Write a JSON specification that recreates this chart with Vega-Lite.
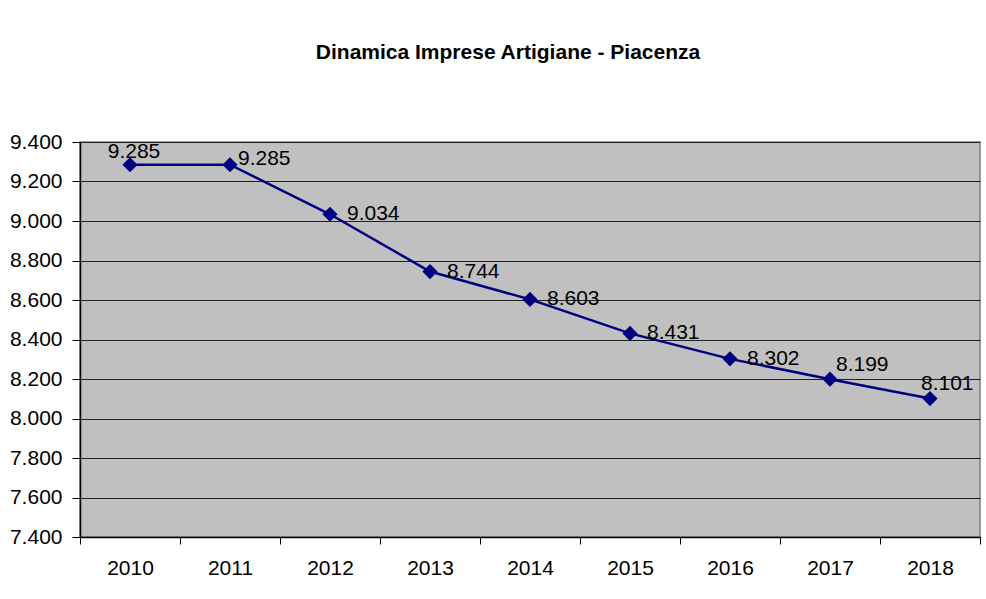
{
  "$schema": "https://vega.github.io/schema/vega-lite/v6.json",
  "width": 900,
  "height": 395,
  "autosize": {"type": "none"},
  "padding": {"left": 80, "top": 142, "right": 6, "bottom": 62},
  "background": "white",
  "config": {
    "locale": {"number": {"decimal": ",", "thousands": ".", "grouping": [3], "currency": ["€", ""]}},
    "font": "Liberation Sans",
    "view": {"fill": "#c0c0c0", "stroke": "#808080", "strokeWidth": 1.5}
  },
  "title": {
    "text": "Dinamica Imprese Artigiane - Piacenza",
    "font": "Liberation Sans",
    "fontSize": 21,
    "fontWeight": "bold",
    "color": "black",
    "anchor": "middle",
    "frame": "group",
    "baseline": "alphabetic",
    "offset": 51,
    "dx": -22
  },
  "data": {
    "values": [
      {"anno": "2010", "imprese": 9285},
      {"anno": "2011", "imprese": 9285},
      {"anno": "2012", "imprese": 9034},
      {"anno": "2013", "imprese": 8744},
      {"anno": "2014", "imprese": 8603},
      {"anno": "2015", "imprese": 8431},
      {"anno": "2016", "imprese": 8302},
      {"anno": "2017", "imprese": 8199},
      {"anno": "2018", "imprese": 8101}
    ]
  },
  "encoding": {
    "x": {
      "field": "anno",
      "type": "ordinal",
      "title": null,
      "scale": {"paddingInner": 0, "paddingOuter": 0},
      "axis": {
        "labelAngle": 0,
        "labelFont": "Liberation Sans",
        "labelFontSize": 21,
        "labelColor": "black",
        "labelPadding": 13,
        "tickBand": "extent",
        "tickSize": 7,
        "tickColor": "black",
        "domainColor": "black",
        "domainWidth": 1.5,
        "grid": false
      }
    },
    "y": {
      "field": "imprese",
      "type": "quantitative",
      "title": null,
      "scale": {"domain": [7400, 9400], "nice": false, "zero": false},
      "axis": {
        "values": [7400, 7600, 7800, 8000, 8200, 8400, 8600, 8800, 9000, 9200, 9400],
        "format": ",d",
        "labelFont": "Liberation Sans",
        "labelFontSize": 21,
        "labelColor": "black",
        "labelPadding": 10,
        "tickSize": 8,
        "tickColor": "black",
        "domainColor": "black",
        "domainWidth": 1.5,
        "grid": true,
        "gridColor": "#202020",
        "gridWidth": 1,
        "gridOpacity": 1
      }
    }
  },
  "layer": [
    {
      "mark": {"type": "line", "color": "#000080", "strokeWidth": 2.5}
    },
    {
      "mark": {"type": "point", "shape": "diamond", "filled": true, "color": "#000080", "size": 230, "opacity": 1}
    },
    {
      "transform": [{"filter": "datum.anno == '2010'"}],
      "mark": {"type": "text", "font": "Liberation Sans", "fontSize": 21, "color": "black", "align": "center", "baseline": "middle", "dx": 4, "dy": -13},
      "encoding": {"text": {"field": "imprese", "type": "quantitative", "format": ",d"}}
    },
    {
      "transform": [{"filter": "datum.anno == '2011'"}],
      "mark": {"type": "text", "font": "Liberation Sans", "fontSize": 21, "color": "black", "align": "left", "baseline": "middle", "dx": 8, "dy": -6},
      "encoding": {"text": {"field": "imprese", "type": "quantitative", "format": ",d"}}
    },
    {
      "transform": [{"filter": "datum.anno >= '2012' && datum.anno <= '2016'"}],
      "mark": {"type": "text", "font": "Liberation Sans", "fontSize": 21, "color": "black", "align": "left", "baseline": "middle", "dx": 17, "dy": 0},
      "encoding": {"text": {"field": "imprese", "type": "quantitative", "format": ",d"}}
    },
    {
      "transform": [{"filter": "datum.anno == '2017'"}],
      "mark": {"type": "text", "font": "Liberation Sans", "fontSize": 21, "color": "black", "align": "left", "baseline": "middle", "dx": 6, "dy": -14},
      "encoding": {"text": {"field": "imprese", "type": "quantitative", "format": ",d"}}
    },
    {
      "transform": [{"filter": "datum.anno == '2018'"}],
      "mark": {"type": "text", "font": "Liberation Sans", "fontSize": 21, "color": "black", "align": "left", "baseline": "middle", "dx": -9, "dy": -15},
      "encoding": {"text": {"field": "imprese", "type": "quantitative", "format": ",d"}}
    }
  ]
}
